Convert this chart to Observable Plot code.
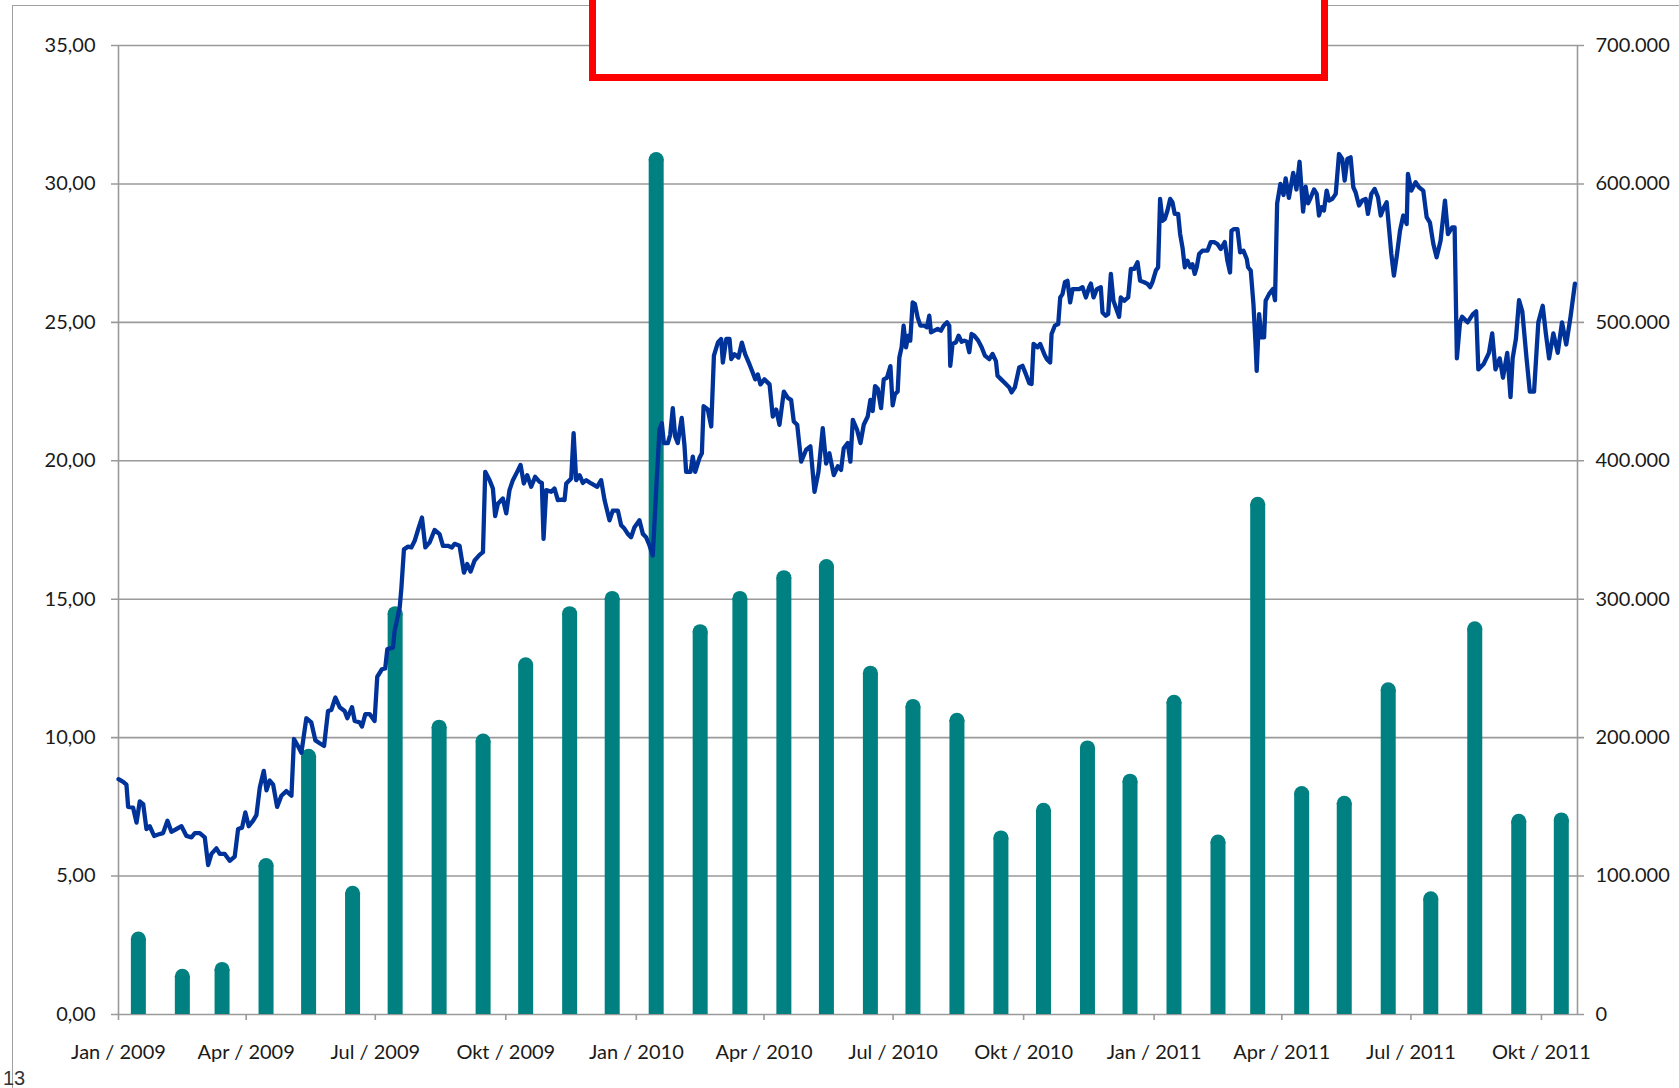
<!DOCTYPE html>
<html><head><meta charset="utf-8">
<script src="https://cdn.jsdelivr.net/npm/d3@7"></script>
<script src="https://cdn.jsdelivr.net/npm/@observablehq/plot@0.6"></script>
<style>
html,body{margin:0;padding:0;background:#fff;overflow:hidden;width:1679px;height:1088px;}
#wrap{position:relative;width:1679px;height:1088px;overflow:hidden;}
#chart svg{display:block;}
.outer{position:absolute;left:12px;top:5px;width:1700px;height:1100px;border-left:1.5px solid #a0a0a0;border-top:1.5px solid #a0a0a0;}
.redbox{position:absolute;left:589px;top:-20px;width:739px;height:101px;border:7.5px solid #ff0000;background:#fff;box-sizing:border-box;}
.cell{position:absolute;left:3px;top:1068px;font:20px/20px "Liberation Sans",Arial,sans-serif;color:#333;}
</style></head>
<body>
<div id="wrap"><div id="chart"></div><div class="outer"></div><div class="redbox"></div><div class="cell">13</div></div>
<script>
// ---- data ----
const lineDay = [0,3.3,5.6,6.8,10.3,12.7,15,17.4,19.7,22,25.1,27.9,31.4,34.5,37.3,40.9,44.4,47.9,51.4,53.8,57.3,60.8,63.2,65.5,69,71.4,74.9,78.4,81.9,84.3,87.1,89.4,91.8,94.9,97.2,99.6,102.4,104.3,106.6,109,111.8,114.8,118.3,121.9,123.7,126.5,128.9,132.4,135.9,138.8,141.8,144.9,147.7,150,152.9,155.9,159.4,161.3,164.6,166.5,170,171.6,174,177,180.5,182.4,185.7,188,189.5,193.5,194.6,196.5,198.2,199.4,201.2,204.1,206.4,208.7,211.1,213.9,216.3,219.3,222.8,226.3,228.7,232.2,235,236.9,240.4,243.5,245.8,248.2,251,254.5,256.9,258.5,261.6,263.9,265.5,267.4,270.9,273.3,275.6,278,281,283.4,285.7,288.1,290.9,293.7,296.8,298.4,299.6,301.5,305,307.3,309.7,312.5,314.4,315.6,319.1,320.8,322.6,325,327.3,329.7,333.2,337.4,340.2,342.6,346.1,348.4,352,354.3,356.6,359,361.3,363.7,367.2,369.6,371.9,374.3,376.6,379,381.3,383,384.4,387.2,388.9,390.7,392.4,394.2,397,398.9,400.1,403.2,404.8,406.5,409.5,411.2,412.4,415.4,417.8,419.7,422.5,424.8,426,428.4,430.7,431.9,434.2,437,439.4,441.7,444.8,447.1,448.8,450.6,452.5,455.3,458.9,461.2,463.6,465.9,469,471.8,474.1,476,478.4,481.2,484.7,487.7,490.6,493.4,496.4,498.8,501.1,504.2,507,509.3,511.2,514,515.9,517.6,520.6,523,525.3,528.1,530,531.6,533.3,535.2,537.5,539.4,541.7,544.1,545.7,547.3,549.2,550.4,552,553.4,555.1,556.7,558.1,559.8,561.4,563.3,565.2,568,569.9,571.5,572.7,575,577.4,579.7,581.6,584,585.6,586.3,587.9,590.3,592.2,594.3,596.2,598,599.7,601.3,603.2,606,608.4,610.7,613.8,616.1,618.5,619.6,622,625.5,627.9,629.5,631.8,634.9,637.2,639.6,642,643.6,645,647.8,649.7,652.5,654.4,656.7,657.7,660,662.4,663.8,665.4,667.1,668.9,670.8,672.5,674.8,677.2,679.5,681.9,684.2,685.4,687.3,689.6,692.4,693.6,695.9,697.6,699.5,701.3,703,705.3,706.5,708.9,711.7,713.6,715.9,718.3,720.1,723,725.3,727.2,728.8,731.2,732.8,734.2,735.9,737.5,739.4,741.3,742.9,744.5,746.9,748.3,750,751.6,753.5,755.4,757,758.6,760,761.7,764,767.6,769.9,772.3,774.6,777,779.8,781.6,783.5,784.5,786.3,788.7,790.6,792.9,795.3,796.2,798.1,800,801.6,802.3,804,805.6,807.5,808.6,811,813.7,815.2,816.7,819,821.2,822.7,825,828,830.3,832.5,835,836.8,838.5,840.3,842.7,844.6,846.2,847.9,849.7,851.6,853.3,855.6,858,860.3,862.6,864.3,866.2,868.5,870.4,872,874.4,876.7,879.1,880.7,883.1,885.4,887.8,889.7,892,893.9,895.5,897.2,899,900.9,903.3,905.6,908,908.9,911.3,914.3,916.7,919.7,922.1,924.4,926.8,929.1,931.9,935,937.1,940.1,941.8,943.4,945.6,947.1,950.9,954.7,957,958.5,962.3,966,968.3,970.6,973.6,975.9,978.9,981.2,982.7,985,987.2,989.5,992.5,994.8,997.8,1000.8,1003.9,1006.1,1008.4,1011.4,1014.5,1017.5,1020.5,1023.5,1026.6];
const linePrice = [8.5,8.4,8.3,7.5,7.47,6.93,7.7,7.6,6.7,6.8,6.45,6.5,6.55,7.0,6.6,6.7,6.8,6.45,6.4,6.55,6.55,6.4,5.4,5.8,6.0,5.8,5.8,5.55,5.7,6.7,6.75,7.3,6.8,7.0,7.2,8.2,8.8,8.1,8.45,8.3,7.5,7.9,8.07,7.9,9.95,9.7,9.45,10.7,10.55,9.9,9.8,9.7,10.96,11.0,11.45,11.1,10.96,10.7,11.1,10.6,10.55,10.4,10.85,10.85,10.6,12.2,12.47,12.5,13.2,13.25,13.85,14.3,14.7,15.4,16.8,16.9,16.87,17.1,17.5,17.95,16.87,17.05,17.5,17.35,16.93,16.93,16.87,17.0,16.93,15.96,16.27,16.0,16.4,16.6,16.7,19.6,19.3,19.0,18.0,18.45,18.64,18.1,18.94,19.3,19.6,19.85,19.18,19.48,19.06,19.42,19.24,19.2,17.18,18.94,18.88,19.0,18.58,18.6,18.58,19.18,19.36,21.0,19.3,19.48,19.2,19.3,19.18,19.06,19.3,18.58,17.85,18.2,18.2,17.67,17.55,17.36,17.24,17.6,17.85,17.36,17.24,16.94,16.58,18.94,21.12,21.36,20.64,20.64,20.94,21.9,20.88,20.64,21.55,20.58,19.6,19.6,20.15,19.6,20.1,20.27,21.97,21.85,21.24,23.8,24.27,24.4,23.55,24.4,24.4,23.67,23.85,23.73,24.27,23.85,23.48,23.18,22.94,23.12,22.76,22.94,22.76,21.6,21.85,21.3,22.5,22.27,22.2,21.42,21.3,19.97,20.4,20.52,18.88,19.6,21.18,19.9,20.27,19.48,19.8,19.67,20.45,20.64,19.97,21.48,21.12,20.64,21.3,21.6,22.2,21.8,22.7,22.6,21.9,22.94,23.0,23.42,22.0,22.4,22.5,23.73,24.1,24.88,24.1,24.52,24.34,25.72,25.66,25.18,24.88,24.88,24.82,25.24,24.64,24.7,24.76,24.7,24.88,25.0,24.88,23.43,24.22,24.28,24.52,24.3,24.34,24.3,23.92,24.58,24.52,24.34,24.1,23.8,23.67,23.86,23.6,23.07,22.95,22.77,22.65,22.47,22.65,23.37,23.43,23.13,22.8,22.77,24.22,24.1,24.22,23.86,23.67,23.55,24.58,24.88,24.94,25.9,26.02,26.45,26.5,25.72,26.2,26.2,26.2,26.27,25.9,26.27,26.4,25.9,26.2,26.27,25.36,25.24,25.3,26.75,25.78,25.54,25.2,25.9,25.78,25.9,26.93,26.93,27.17,26.5,26.45,26.39,26.27,26.45,26.87,26.99,29.46,28.67,28.73,29.04,29.46,29.34,28.92,28.92,28.2,27.7,26.99,27.23,26.99,27.1,26.75,26.99,27.47,27.59,27.59,27.9,27.9,27.83,27.65,27.9,27.23,26.8,28.31,28.37,28.37,27.53,27.59,27.29,26.99,26.87,25.66,24.1,23.25,25.3,24.46,24.46,25.78,26.02,26.2,25.8,29.3,30.0,29.6,30.2,29.5,30.4,29.8,30.8,29.0,29.9,29.3,29.5,29.8,29.64,28.86,29.16,29.04,29.76,29.4,29.46,29.64,31.08,30.9,30.12,30.9,30.96,29.88,29.7,29.22,29.4,29.46,28.92,29.64,29.82,29.52,28.86,29.16,29.34,28.43,27.47,26.69,27.35,28.31,28.86,28.55,30.36,29.76,30.06,29.88,29.76,28.8,28.6,27.83,27.35,27.95,29.4,28.19,28.43,28.43,23.7,25.0,25.2,25.0,25.3,25.4,23.3,23.5,23.9,24.6,23.3,23.7,23.0,23.9,22.3,23.7,24.4,25.8,25.4,23.7,22.5,22.5,25.0,25.6,24.6,23.7,24.6,23.9,25.0,24.2,25.2,26.4];
const lineStart = "2009-01-01";

const barMonth = ["2009-01","2009-02","2009-03","2009-04","2009-05","2009-06","2009-07","2009-08","2009-09","2009-10","2009-11","2009-12","2010-01","2010-02","2010-03","2010-04","2010-05","2010-06","2010-07","2010-08","2010-09","2010-10","2010-11","2010-12","2011-01","2011-02","2011-03","2011-04","2011-05","2011-06","2011-07","2011-08","2011-09","2011-10"];
const barVolume = [60000,33000,38000,113000,192000,93000,295000,213000,203000,258000,295000,306000,623000,282000,306000,321000,329000,252000,228000,218000,133000,153000,198000,174000,231000,130000,374000,165000,158000,240000,89000,284000,145000,146000];

const leftTicks = [0,5,10,15,20,25,30,35];
const rightTicks = [0,100000,200000,300000,400000,500000,600000,700000];
const xTickDate = ["2009-01-01","2009-04-01","2009-07-01","2009-10-01","2010-01-01","2010-04-01","2010-07-01","2010-10-01","2011-01-01","2011-04-01","2011-07-01","2011-10-01"];
const xTickLabel = ["Jan / 2009","Apr / 2009","Jul / 2009","Okt / 2009","Jan / 2010","Apr / 2010","Jul / 2010","Okt / 2010","Jan / 2011","Apr / 2011","Jul / 2011","Okt / 2011"];

// ---- build ----
const t0 = new Date(lineStart + "T00:00:00Z");
const line = lineDay.map((d, i) => ({date: new Date(t0.getTime() + d * 864e5), price: linePrice[i]}));
const bars = barMonth.map((m, i) => ({date: new Date(m + "-15T00:00:00Z"), vol: barVolume[i]}));
const ratio = rightTicks[rightTicks.length - 1] / leftTicks[leftTicks.length - 1];
const loc = d3.formatLocale({decimal: ",", thousands: ".", grouping: [3], currency: ["", " €"]});
const fmtL = loc.format(",.2f");
const fmtR = loc.format(",.0f");

const grid = "#9a9a9a", teal = "#008080", blue = "#003399", ink = "#1a1a1a";
const font = "Lato, 'Open Sans', sans-serif", fsz = 20;
const xDomain = [t0, new Date("2011-10-26T10:00:00Z")];

const chart = Plot.plot({
  width: 1679, height: 1088,
  marginLeft: 118, marginRight: 102, marginTop: 45, marginBottom: 74,
  x: {type: "utc", domain: xDomain, axis: null},
  y: {domain: [0, 35], axis: null},
  style: {background: "transparent", fontFamily: font, fontSize: fsz + "px", color: ink},
  marks: [
    Plot.ruleY(leftTicks, {y: d => d, stroke: grid, strokeWidth: 1.6, insetLeft: -7, insetRight: -7}),
    Plot.ruleX([xDomain[0]], {stroke: grid, strokeWidth: 1.6}),
    Plot.ruleX([xDomain[1]], {stroke: grid, strokeWidth: 1.6}),
    Plot.ruleX(xTickDate, {x: d => new Date(d + "T00:00:00Z"), y1: 0, y2: 0, insetBottom: -6, stroke: grid, strokeWidth: 1.6}),
    Plot.ruleX(bars, {x: "date", y1: d => d.vol / ratio, y2: 0, insetTop: 7.5, stroke: teal, strokeWidth: 15}),
    Plot.dot(bars, {x: "date", y: d => d.vol / ratio, r: 7.5, dy: 7.5, fill: teal, stroke: null}),
    Plot.line(line, {x: "date", y: "price", stroke: blue, strokeWidth: 4.3, strokeLinejoin: "round", strokeLinecap: "round"}),
    Plot.text(leftTicks, {y: d => d, text: d => fmtL(d), frameAnchor: "left", textAnchor: "end", dx: -23, fill: ink, fontFamily: font, fontSize: fsz}),
    Plot.text(rightTicks, {y: d => d / ratio, text: d => fmtR(d), frameAnchor: "right", textAnchor: "start", dx: 18, fill: ink, fontFamily: font, fontSize: fsz}),
    Plot.text(xTickDate, {x: d => new Date(d + "T00:00:00Z"), text: (d, i) => xTickLabel[i], frameAnchor: "bottom", dy: 44.5, fill: ink, fontFamily: font, fontSize: fsz})
  ]
});
document.getElementById("chart").appendChild(chart);
</script>
</body></html>
